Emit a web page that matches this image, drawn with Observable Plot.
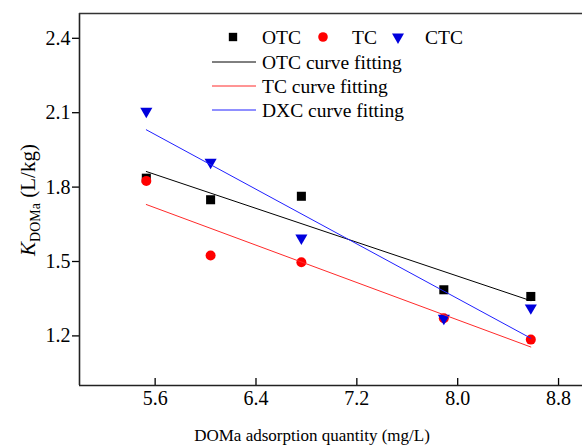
<!DOCTYPE html>
<html><head><meta charset="utf-8">
<script src="https://cdn.jsdelivr.net/npm/d3@7"></script>
<script src="https://cdn.jsdelivr.net/npm/@observablehq/plot@0.6"></script>
<style>
body{margin:0;background:#fff;}
#wrap{position:relative;width:582px;height:445px;overflow:hidden;}
</style>
</head><body><div id="wrap"></div>
<script>
// ---- data ----
const xValues = [5.53, 6.04, 6.76, 7.89, 8.58];
const otcValues = [1.836, 1.749, 1.763, 1.386, 1.359];
const tcValues = [1.825, 1.524, 1.497, 1.271, 1.185];
const ctcValues = [2.106, 1.900, 1.595, 1.271, 1.313];
const seriesNames = ["OTC", "TC", "CTC"];
const fitNames = ["OTC curve fitting", "TC curve fitting", "DXC curve fitting"];
const xTicks = [5.6, 6.4, 7.2, 8.0, 8.8];
const yTicks = [1.2, 1.5, 1.8, 2.1, 2.4];
const xDomain = [5.0, 8.99];
const yDomain = [1.0, 2.5];
const xLabel = "DOMa adsorption quantity (mg/L)";

// ---- build table ----
const rows = (name, ys) => xValues.map((x, i) => ({series: name, x, y: ys[i]}));
const otc = rows("OTC", otcValues);
const tc = rows("TC", tcValues);
const ctc = rows("CTC", ctcValues);

const font = "'Liberation Serif', 'Times New Roman', serif";
const black = "#000000", red = "#ff0000", blue = "#0000dd";
const redLine = "#ff2a2a", blueLine = "#2020ff";

const plot = Plot.plot({
  width: 582,
  height: 445,
  marginLeft: 79,
  marginTop: 13,
  marginBottom: 60,
  marginRight: 0,
  style: {fontFamily: font, background: "#fff", color: "#000", overflow: "visible"},
  x: {domain: xDomain, label: null},
  y: {domain: yDomain, label: null},
  marks: [
    // axis ticks & labels
    Plot.axisX({ticks: xTicks, tickSize: 7, dy: -7, tickFormat: () => "", strokeWidth: 1.3}),
    Plot.axisX({ticks: xTicks, tickSize: 0, tickPadding: 5, tickFormat: d => d.toFixed(1), fontSize: 20, label: null}),
    Plot.axisY({ticks: yTicks, tickSize: 7, tickPadding: 2, tickFormat: d => d.toFixed(1), fontSize: 20, strokeWidth: 1.3, label: null}),
    // frame lines
    Plot.ruleX([xDomain[0]], {stroke: "#222", strokeWidth: 1.6}),
    Plot.ruleY([yDomain[0]], {stroke: "#222", strokeWidth: 1.6}),
    Plot.ruleY([yDomain[1]], {stroke: "#333", strokeWidth: 1.6}),
    // points
    Plot.dot(otc, {x: "x", y: "y", symbol: "square", r: 5.1, fill: black, stroke: "none"}),
    Plot.dot(tc, {x: "x", y: "y", symbol: "circle", r: 5, fill: red, stroke: "none"}),
    Plot.dot(ctc, {x: "x", y: "y", symbol: "triangle", r: 4.5, rotate: 180, fill: blue, stroke: "none"}),
    // fitting lines
    Plot.linearRegressionY(otc, {x: "x", y: "y", stroke: black, strokeWidth: 1, ci: 0}),
    Plot.linearRegressionY(tc, {x: "x", y: "y", stroke: redLine, strokeWidth: 1, ci: 0}),
    Plot.linearRegressionY(ctc, {x: "x", y: "y", stroke: blueLine, strokeWidth: 1, ci: 0})
  ]
});

document.getElementById("wrap").appendChild(plot);
const svg = d3.select(plot);

// ---- y axis label with subscript ----
const yl = svg.append("text")
  .attr("transform", "translate(35,200) rotate(-90)")
  .attr("text-anchor", "middle")
  .attr("font-family", font)
  .attr("font-size", 21)
  .attr("fill", "#000");
yl.append("tspan").attr("font-style", "italic").text("K");
yl.append("tspan").attr("font-size", 14).attr("dy", 5).text("DOMa");
yl.append("tspan").attr("dy", -5).text(" (L/kg)");

// ---- x axis label ----
svg.append("text")
  .attr("x", 312).attr("y", 441)
  .attr("text-anchor", "middle")
  .attr("font-family", font)
  .attr("font-size", 17)
  .attr("fill", "#000")
  .text(xLabel);

// ---- legend ----
const lg = svg.append("g").attr("font-family", font).attr("font-size", 19.5)
  .attr("fill", "#000").attr("text-anchor", "start");
const symItems = [
  {sym: d3.symbolSquare, size: 70, fill: black, rot: 0, sx: 233, tx: 262},
  {sym: d3.symbolCircle, size: 72, fill: red, rot: 0, sx: 323, tx: 352},
  {sym: d3.symbolTriangle, size: 62, fill: blue, rot: 180, sx: 398, tx: 425}
];
symItems.forEach((it, i) => {
  lg.append("path")
    .attr("d", d3.symbol(it.sym, it.size)())
    .attr("transform", `translate(${it.sx},37) rotate(${it.rot})`)
    .attr("fill", it.fill);
  lg.append("text").attr("x", it.tx).attr("y", 37).attr("dy", "0.35em").text(seriesNames[i]);
});
const lineColors = [black, redLine, blueLine];
const rowY = [62, 86, 110];
fitNames.forEach((name, i) => {
  lg.append("line").attr("x1", 212).attr("x2", 256).attr("y1", rowY[i]).attr("y2", rowY[i])
    .attr("stroke", lineColors[i]).attr("stroke-width", 1);
  lg.append("text").attr("x", 262).attr("y", rowY[i]).attr("dy", "0.35em").text(name);
});
</script>
</body></html>
